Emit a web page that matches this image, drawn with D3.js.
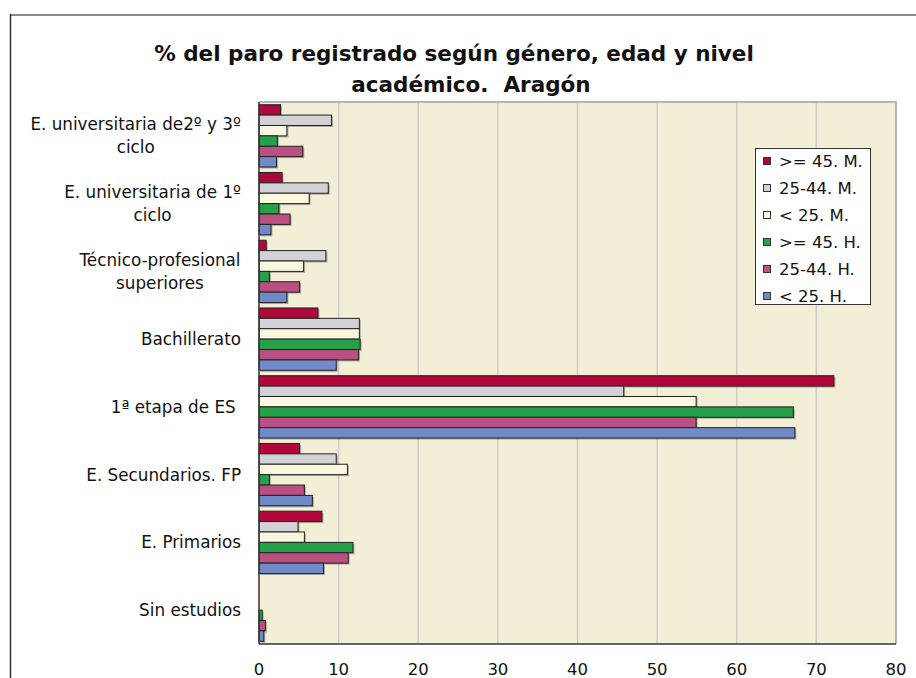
<!DOCTYPE html>
<html><head><meta charset="utf-8">
<script src="https://cdn.jsdelivr.net/npm/d3@7"></script>
<style>body{margin:0;background:#fff;}svg{display:block;}</style>
</head><body>
<svg id="chart" width="916" height="678"></svg>
<script>
const categories = [
  ["E. universitaria de2º y 3º", "ciclo"],
  ["E. universitaria de 1º", "ciclo"],
  ["Técnico-profesional", "superiores"],
  ["Bachillerato"],
  ["1ª etapa de ES "],
  ["E. Secundarios. FP"],
  ["E. Primarios"],
  ["Sin estudios"]
];
const seriesNames = [">= 45. M.", "25-44. M.", "< 25. M.", ">= 45. H.", "25-44. H.", "< 25. H."];
const seriesColors = ["#B0083A", "#D2D2D6", "#FAF7DF", "#27A04A", "#BA4F82", "#6F8AC6"];
const mayor45M = [2.7, 2.9, 0.9, 7.4, 72.2, 5.1, 7.9, 0];
const de25a44M = [9.1, 8.7, 8.4, 12.6, 45.8, 9.7, 4.9, 0];
const menor25M = [3.5, 6.3, 5.6, 12.6, 54.9, 11.1, 5.7, 0];
const mayor45H = [2.3, 2.5, 1.3, 12.7, 67.1, 1.3, 11.8, 0.4];
const de25a44H = [5.5, 3.9, 5.1, 12.5, 54.9, 5.7, 11.2, 0.8];
const menor25H = [2.2, 1.5, 3.5, 9.7, 67.3, 6.7, 8.1, 0.6];
const seriesValues = [mayor45M, de25a44M, menor25M, mayor45H, de25a44H, menor25H];
const xTicks = [0, 10, 20, 30, 40, 50, 60, 70, 80];
const titleLines = ["% del paro registrado según género, edad y nivel", "académico.  Aragón"];

const svg = d3.select("#chart");
const font = "'DejaVu Sans', Verdana, sans-serif";

// outer frame
svg.append("line").attr("x1", 10).attr("x2", 916).attr("y1", 15).attr("y2", 15)
  .attr("stroke", "#8a8a8a").attr("stroke-width", 2);
svg.append("line").attr("x1", 10.5).attr("x2", 10.5).attr("y1", 14).attr("y2", 678)
  .attr("stroke", "#333").attr("stroke-width", 1.5);

// title
svg.append("text").attr("text-anchor", "middle").attr("font-family", font)
  .attr("font-weight", "bold").attr("font-size", 21.5).attr("fill", "#111")
  .selectAll("tspan").data(titleLines).join("tspan")
  .attr("x", (d, i) => i === 0 ? 454 : 471).attr("y", (d, i) => 61 + i * 31)
  .attr("xml:space", "preserve").style("white-space", "pre").text(d => d);

const plot = {left: 259, right: 896, top: 102, bottom: 644};
const x = d3.scaleLinear().domain([0, 80]).range([plot.left, plot.right]);
const y = d3.scaleBand().domain(d3.range(categories.length)).range([plot.top, plot.bottom]).paddingInner(0.08).paddingOuter(0.04);
const ys = d3.scaleBand().domain(d3.range(seriesNames.length)).range([0, y.bandwidth()]);

// plot background
svg.append("rect").attr("x", plot.left).attr("y", plot.top)
  .attr("width", plot.right - plot.left).attr("height", plot.bottom - plot.top)
  .attr("fill", "#F3EED6");

// gridlines
svg.append("g").selectAll("line").data(xTicks.slice(1, -1)).join("line")
  .attr("x1", d => x(d)).attr("x2", d => x(d)).attr("y1", plot.top).attr("y2", plot.bottom)
  .attr("stroke", "#cdcdcd").attr("stroke-width", 1.5);

// plot border top/right
svg.append("path").attr("d", `M${plot.left},${plot.top}H${plot.right}V${plot.bottom}`)
  .attr("fill", "none").attr("stroke", "#b4b4b4").attr("stroke-width", 2);

// bars
const barData = [];
seriesValues.forEach((vals, s) => vals.forEach((v, c) => { if (v > 0) barData.push({s, c, v}); }));
const gb = svg.append("g");
gb.selectAll("rect.shadow").data(barData).join("rect").attr("class", "shadow")
  .attr("x", plot.left + 1.5).attr("y", d => y(d.c) + ys(d.s) + 1.5)
  .attr("width", d => x(d.v) - plot.left).attr("height", ys.bandwidth())
  .attr("fill", "#777").attr("opacity", 0.55);
gb.selectAll("rect.bar").data(barData).join("rect").attr("class", "bar")
  .attr("x", plot.left).attr("y", d => y(d.c) + ys(d.s))
  .attr("width", d => x(d.v) - plot.left).attr("height", ys.bandwidth())
  .attr("fill", d => seriesColors[d.s]).attr("stroke", "#222").attr("stroke-width", 1);

// axes lines
svg.append("line").attr("x1", plot.left).attr("x2", plot.right).attr("y1", plot.bottom).attr("y2", plot.bottom)
  .attr("stroke", "#333").attr("stroke-width", 1.5);
svg.append("line").attr("x1", plot.left).attr("x2", plot.left).attr("y1", plot.top).attr("y2", plot.bottom)
  .attr("stroke", "#333").attr("stroke-width", 1.5);

// x tick labels
svg.append("g").selectAll("text").data(xTicks).join("text")
  .attr("x", d => x(d)).attr("y", 675).attr("text-anchor", "middle")
  .attr("font-family", font).attr("font-size", 16.5).attr("fill", "#111").text(d => d);

// category labels
const lg = svg.append("g").attr("font-family", font).attr("font-size", 16.8).attr("fill", "#111");
categories.forEach((lines, c) => {
  const cy = y(c) + y.bandwidth() / 2;
  const t = lg.append("text").attr("text-anchor", "middle").attr("xml:space", "preserve");
  const n = lines.length;
  t.selectAll("tspan").data(lines).join("tspan")
    .attr("x", 0).attr("y", (d, i) => cy + 6 + (i - (n - 1) / 2) * 23).text(d => d);
  const w = t.node().getBBox().width;
  t.attr("transform", `translate(${241 - w / 2},0)`);
});

// legend
const leg = svg.append("g");
leg.append("rect").attr("x", 755.5).attr("y", 148.5).attr("width", 115).attr("height", 156)
  .attr("fill", "#fff").attr("stroke", "#333").attr("stroke-width", 1);
const li = leg.selectAll("g.item").data(seriesNames).join("g").attr("class", "item")
  .attr("transform", (d, i) => `translate(0,${161 + i * 27})`);
li.append("rect").attr("x", 763.5).attr("y", -3.5).attr("width", 7).attr("height", 7)
  .attr("fill", (d, i) => seriesColors[i]).attr("stroke", "#333").attr("stroke-width", 1);
li.append("text").attr("x", 779).attr("y", 6).attr("font-family", font).attr("font-size", 16.5)
  .attr("fill", "#111").text(d => d);
</script>
</body></html>
